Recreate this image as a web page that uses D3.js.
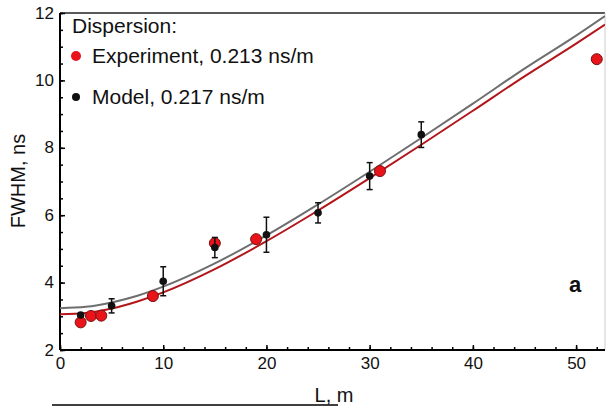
<!DOCTYPE html>
<html><head><meta charset="utf-8">
<script src="https://cdn.jsdelivr.net/npm/d3@7"></script>
<style>body{margin:0;background:#fff;}svg{display:block;font-family:"Liberation Sans",Arial,sans-serif;}</style>
</head><body>
<svg id="c" width="606" height="406"></svg>
<script>
// Data
const expL = [2, 3, 4, 9, 15, 19, 31, 52];
const expFWHM = [2.82, 3.01, 3.02, 3.60, 5.17, 5.29, 7.31, 10.63];
const modelL = [2, 5, 10, 15, 20, 25, 30, 35];
const modelFWHM = [3.04, 3.31, 4.04, 5.04, 5.42, 6.07, 7.16, 8.39];
const modelErr = [0, 0.21, 0.43, 0.30, 0.52, 0.30, 0.40, 0.38];
const curveL = [0, 2.5, 5, 7.5, 10, 15, 20, 25, 30, 35, 40, 45, 50, 52.8];
const curveModel = [3.24, 3.28, 3.41, 3.61, 3.88, 4.57, 5.40, 6.32, 7.29, 8.29, 9.31, 10.35, 11.33, 11.91];
const curveExp = [3.06, 3.10, 3.23, 3.44, 3.71, 4.40, 5.23, 6.14, 7.10, 8.09, 9.10, 10.12, 11.09, 11.66];
const xTicks = [0, 10, 20, 30, 40, 50];
const yTicks = [2, 4, 6, 8, 10, 12];
const legendTitle = "Dispersion:";
const legendItems = ["Experiment, 0.213 ns/m", "Model, 0.217 ns/m"];

const svg = d3.select("#c");
const L = 60, R = 605, T = 13, B = 350;
const x = d3.scaleLinear().domain([0, 52.8]).range([L, R]);
const y = d3.scaleLinear().domain([2, 12]).range([B, T]);

// frame
svg.append("line").attr("x1", L).attr("x2", R).attr("y1", T).attr("y2", T).attr("stroke", "#222").attr("stroke-width", 1.5);
svg.append("line").attr("x1", R).attr("x2", R).attr("y1", T).attr("y2", B).attr("stroke", "#ccc").attr("stroke-width", 1);

// axes
const xAxisMinor = d3.axisBottom(x).tickValues(d3.range(0, 53, 2)).tickSize(-3).tickFormat("");
const yAxisMinor = d3.axisLeft(y).tickValues(d3.range(2, 12.01, 0.5)).tickSize(-3).tickFormat("");
svg.append("g").attr("transform", `translate(0,${B})`).call(xAxisMinor).call(g => g.select(".domain").remove()).selectAll("line").attr("stroke", "#000").attr("stroke-width", 1.5);
svg.append("g").attr("transform", `translate(${L},0)`).call(yAxisMinor).call(g => g.select(".domain").remove()).selectAll("line").attr("stroke", "#000").attr("stroke-width", 1.5);

const xAxis = d3.axisBottom(x).tickValues(xTicks).tickSize(-5).tickPadding(7);
const gx = svg.append("g").attr("transform", `translate(0,${B})`).call(xAxis);
gx.attr("font-size", null).attr("font-family", null);
gx.select(".domain").attr("d", `M${L},0H${R}`).attr("stroke", "#000").attr("stroke-width", 2);
gx.selectAll("line").attr("stroke", "#000").attr("stroke-width", 1.5);
gx.selectAll("text").style("font-size", "17px").attr("fill", "#111");

const yAxis = d3.axisLeft(y).tickValues(yTicks).tickSize(-5).tickPadding(6);
const gy = svg.append("g").attr("transform", `translate(${L},0)`).call(yAxis);
gy.attr("font-size", null).attr("font-family", null);
gy.select(".domain").attr("d", `M0,${T}V${B}`).attr("stroke", "#000").attr("stroke-width", 2);
gy.selectAll("line").attr("stroke", "#000").attr("stroke-width", 1.5);
gy.selectAll("text").style("font-size", "17px").attr("fill", "#111").attr("dy", "0.3em");

// axis titles
svg.append("text").attr("x", 334).attr("y", 402).attr("text-anchor", "middle").style("font-size", "20px").attr("fill", "#111").text("L, m");
svg.append("text").attr("transform", "translate(25,181) rotate(-90)").attr("text-anchor", "middle").style("font-size", "20px").attr("fill", "#111").text("FWHM, ns");
svg.append("line").attr("x1", 52).attr("x2", 338).attr("y1", 405).attr("y2", 405).attr("stroke", "#000").attr("stroke-width", 1.5);

// curves
const line = d3.line().curve(d3.curveMonotoneX);
svg.append("clipPath").attr("id", "clp").append("rect").attr("x", L).attr("y", T).attr("width", R - L).attr("height", B - T);
svg.append("path").attr("clip-path", "url(#clp)").attr("d", line(curveL.map((l, i) => [x(l), y(curveModel[i])]))).attr("fill", "none").attr("stroke", "#6e6e6e").attr("stroke-width", 2);
svg.append("path").attr("clip-path", "url(#clp)").attr("d", line(curveL.map((l, i) => [x(l), y(curveExp[i])]))).attr("fill", "none").attr("stroke", "#b3161a").attr("stroke-width", 2);

// experiment points
svg.append("g").selectAll("circle").data(expL).join("circle")
  .attr("cx", d => x(d)).attr("cy", (d, i) => y(expFWHM[i])).attr("r", 5.5)
  .attr("fill", "#e8141a").attr("stroke", "#7a1010").attr("stroke-width", 1);

// model error bars and points
const eb = svg.append("g").attr("stroke", "#111").attr("stroke-width", 1.5);
modelL.forEach((l, i) => {
  const e = modelErr[i];
  if (e > 0) {
    eb.append("line").attr("x1", x(l)).attr("x2", x(l)).attr("y1", y(modelFWHM[i] - e)).attr("y2", y(modelFWHM[i] + e));
    eb.append("line").attr("x1", x(l) - 3).attr("x2", x(l) + 3).attr("y1", y(modelFWHM[i] - e)).attr("y2", y(modelFWHM[i] - e));
    eb.append("line").attr("x1", x(l) - 3).attr("x2", x(l) + 3).attr("y1", y(modelFWHM[i] + e)).attr("y2", y(modelFWHM[i] + e));
  }
});
svg.append("g").selectAll("circle").data(modelL).join("circle")
  .attr("cx", d => x(d)).attr("cy", (d, i) => y(modelFWHM[i])).attr("r", 3.8).attr("fill", "#111");

// legend
svg.append("text").attr("x", 72).attr("y", 33).style("font-size", "21px").attr("fill", "#111").text(legendTitle);
svg.append("circle").attr("cx", 76).attr("cy", 56).attr("r", 5).attr("fill", "#e8141a");
svg.append("text").attr("x", 92).attr("y", 63).style("font-size", "21px").attr("fill", "#111").text(legendItems[0]);
svg.append("circle").attr("cx", 76).attr("cy", 97).attr("r", 4).attr("fill", "#111");
svg.append("text").attr("x", 92).attr("y", 104).style("font-size", "21px").attr("fill", "#111").text(legendItems[1]);

// panel label
svg.append("text").attr("x", 575).attr("y", 292).attr("text-anchor", "middle").style("font-size", "22px").attr("font-weight", "bold").attr("fill", "#111").text("a");
</script>
</body></html>
